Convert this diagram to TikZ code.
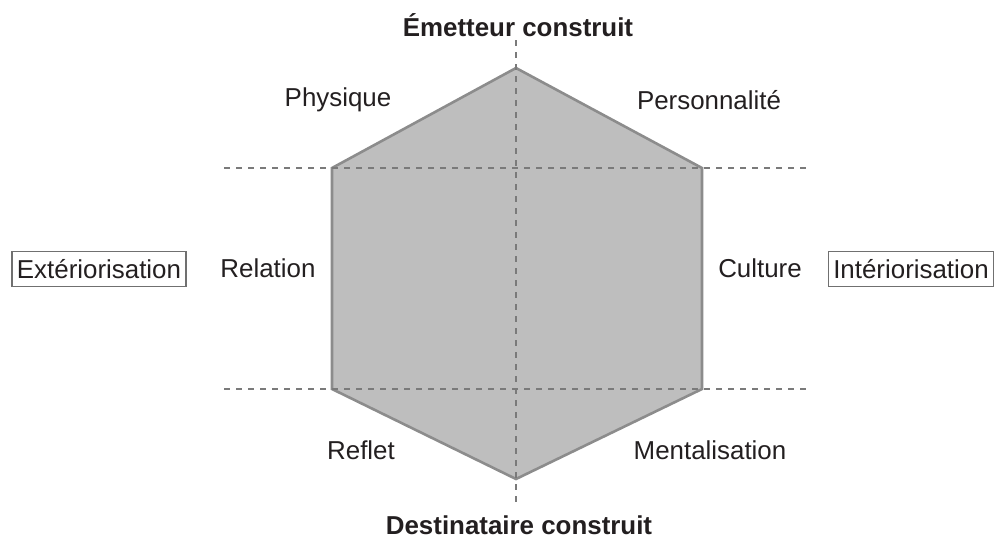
\documentclass[tikz,border=0pt]{standalone}
\usepackage{fontspec}
\setmainfont{Liberation Sans}
\begin{document}
\begin{tikzpicture}[x=1pt,y=-1pt,
  lbl/.style={font=\fontsize{25.9}{31}\selectfont, text=txt, inner sep=0pt},
  ttl/.style={font=\fontsize{25.9}{31}\selectfont\bfseries, text=txt, inner sep=0pt},
  boxed/.style={lbl, draw=boxgray, line width=1.4pt, inner xsep=5pt, minimum height=35pt},
  guide/.style={draw=dashgray, line width=1.3pt, dash pattern=on 6pt off 6pt},
  hexa/.style={fill=hexfill, draw=hexedge, line width=2.6pt, line join=miter}]
\definecolor{txt}{HTML}{231F20}
\definecolor{hexfill}{HTML}{BEBEBE}
\definecolor{hexedge}{HTML}{8C8C8C}
\definecolor{dashgray}{HTML}{7A7A7A}
\definecolor{boxgray}{HTML}{707070}
\useasboundingbox (0,0) rectangle (998,539);
% hexagon vertices
\coordinate (T) at (516,68);
\coordinate (UL) at (332,168);
\coordinate (UR) at (702,168);
\coordinate (LL) at (332,389);
\coordinate (LR) at (702,389);
\coordinate (B) at (516,479);
\draw[hexa] (T) -- (UR) -- (LR) -- (B) -- (LL) -- (UL) -- cycle;
% guides
\coordinate (v1) at (516,40);
\coordinate (v2) at (516,502);
\coordinate (h1a) at (224,168);
\coordinate (h1b) at (810,168);
\coordinate (h2a) at (224,389);
\coordinate (h2b) at (810,389);
\draw[guide] (v1) -- (v2);
\draw[guide] (h1a) -- (h1b);
\draw[guide] (h2a) -- (h2b);
% titles
\node[ttl] (em) at (518,25) {Émetteur construit};
\node[ttl] (de) at (519,525) {Destinataire construit};
% labels
\node[lbl] (phy) at (338,100) {Physique};
\node[lbl] (per) at (709,100) {Personnalité};
\node[lbl] (rel) at (268,268) {Relation};
\node[lbl] (cul) at (760,268) {Culture};
\node[lbl] (ref) at (361,450) {Reflet};
\node[lbl] (men) at (710,450) {Mentalisation};
% boxes
\node[boxed] (ext) at (99,269) {Extériorisation};
\node[boxed] (int) at (911,269) {Intériorisation};
\end{tikzpicture}
\end{document}
